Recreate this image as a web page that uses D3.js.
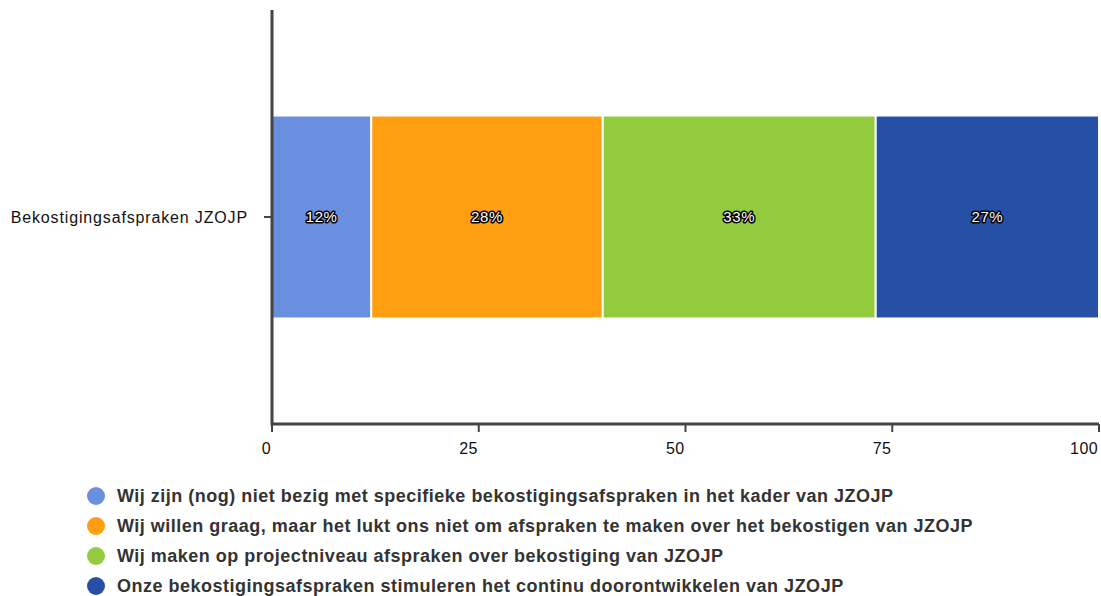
<!DOCTYPE html>
<html>
  <head>
    <meta charset="utf-8">
    <title>Bekostigingsafspraken JZOJP</title>
    <script src="https://cdn.jsdelivr.net/npm/d3@7"></script>
    <style>
      body { margin: 0; background: #fff; font-family: "Liberation Sans", Arial, sans-serif; }
    </style>
  </head>
  <body>
    <svg id="chart" width="1101" height="596"></svg>
    <script>
let categories = ['Bekostigingsafspraken JZOJP'];
let seriesNames = [
  'Wij zijn (nog) niet bezig met specifieke bekostigingsafspraken in het kader van JZOJP',
  'Wij willen graag, maar het lukt ons niet om afspraken te maken over het bekostigen van JZOJP',
  'Wij maken op projectniveau afspraken over bekostiging van JZOJP',
  'Onze bekostigingsafspraken stimuleren het continu doorontwikkelen van JZOJP'
];
let seriesValues = [12, 28, 33, 27];
let seriesColors = ['#6a8fdf', '#ff9e10', '#93cb3e', '#2650a5'];
let xTicks = [0, 25, 50, 75, 100];

let svg = d3.select('#chart');

let plotLeft = 272, plotRight = 1099, plotTop = 10, plotBottom = 424;

let x = d3.scaleLinear().domain([0, 100]).range([plotLeft, plotRight]);
let y = d3.scaleBand().domain(categories).range([plotTop, plotBottom]).paddingInner(0).paddingOuter(0.52);

// stacked segments
let stacked = [];
let acc = 0;
seriesValues.forEach(function(v, i) {
  stacked.push({name: seriesNames[i], value: v, x0: acc, x1: acc + v, color: seriesColors[i]});
  acc += v;
});

let bars = svg.append('g');
bars.selectAll('rect')
  .data(stacked)
  .enter()
  .append('rect')
  .attr('x', d => x(d.x0))
  .attr('y', y(categories[0]))
  .attr('width', d => x(d.x1) - x(d.x0))
  .attr('height', y.bandwidth())
  .attr('fill', d => d.color)
  .attr('stroke', '#fff')
  .attr('stroke-width', 2);

let cy = y(categories[0]) + y.bandwidth() / 2;

bars.selectAll('text')
  .data(stacked)
  .enter()
  .append('text')
  .attr('x', d => x((d.x0 + d.x1) / 2))
  .attr('y', cy)
  .attr('dy', '0.35em')
  .attr('text-anchor', 'middle')
  .attr('font-size', 15)
  .attr('letter-spacing', 0.6)
  .attr('fill', '#fff')
  .attr('stroke', '#000')
  .attr('stroke-width', 3)
  .attr('paint-order', 'stroke')
  .attr('stroke-linejoin', 'round')
  .text(d => d.value + '%');

// axes
let axisColor = '#444';
svg.append('line')
  .attr('x1', plotLeft).attr('x2', plotLeft)
  .attr('y1', plotTop).attr('y2', plotBottom + 1.5)
  .attr('stroke', axisColor).attr('stroke-width', 3);
svg.append('line')
  .attr('x1', plotLeft).attr('x2', plotRight)
  .attr('y1', plotBottom).attr('y2', plotBottom)
  .attr('stroke', axisColor).attr('stroke-width', 3);

// category tick + label
svg.append('line')
  .attr('x1', plotLeft - 8).attr('x2', plotLeft)
  .attr('y1', cy).attr('y2', cy)
  .attr('stroke', axisColor).attr('stroke-width', 2);
svg.append('text')
  .attr('x', plotLeft - 24)
  .attr('y', cy)
  .attr('dy', '0.35em')
  .attr('text-anchor', 'end')
  .attr('font-size', 16)
  .attr('letter-spacing', 0.85)
  .attr('fill', '#111')
  .text(categories[0]);

// x ticks
let xt = svg.append('g');
xt.selectAll('line')
  .data(xTicks)
  .enter()
  .append('line')
  .attr('x1', d => x(d)).attr('x2', d => x(d))
  .attr('y1', plotBottom).attr('y2', plotBottom + 8)
  .attr('stroke', axisColor).attr('stroke-width', 2);
xt.selectAll('text')
  .data(xTicks)
  .enter()
  .append('text')
  .attr('x', d => x(d) - 1)
  .attr('y', plotBottom + 30)
  .attr('text-anchor', 'end')
  .attr('font-size', 16)
  .attr('letter-spacing', 0.4)
  .attr('fill', '#111')
  .text(d => d);

// legend
let legend = svg.append('g');
let item = legend.selectAll('g')
  .data(stacked)
  .enter()
  .append('g')
  .attr('transform', (d, i) => 'translate(96,' + (496 + i * 30) + ')');
item.append('circle')
  .attr('r', 9)
  .attr('fill', d => d.color);
item.append('text')
  .attr('x', 21)
  .attr('dy', '0.36em')
  .attr('font-size', 18)
  .attr('letter-spacing', 0.5)
  .attr('font-weight', 'bold')
  .attr('fill', '#333')
  .text(d => d.name);
    </script>
  </body>
</html>
